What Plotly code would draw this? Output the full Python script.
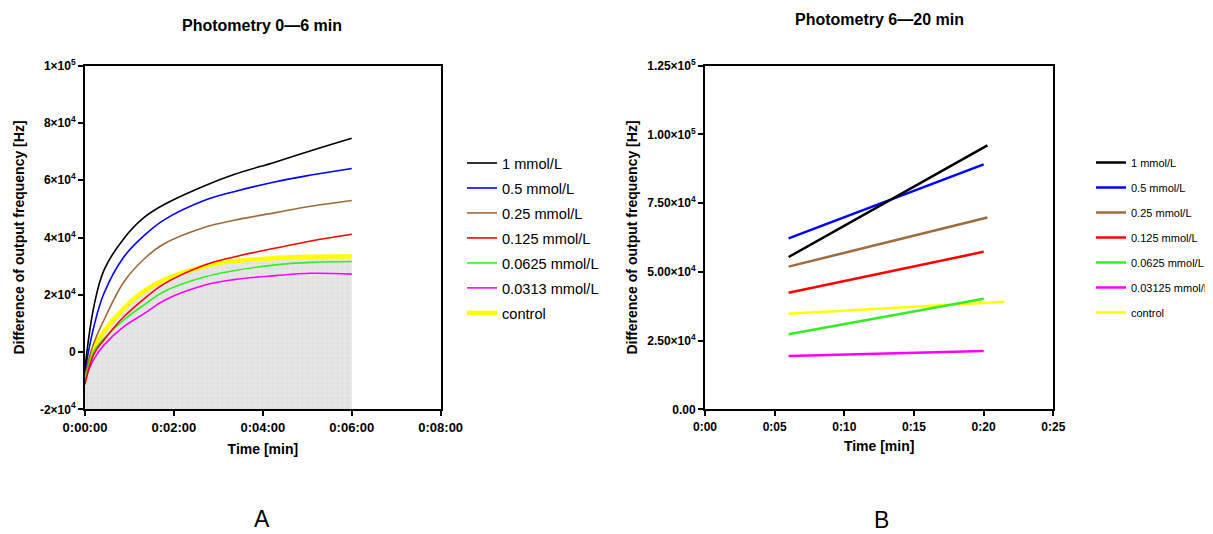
import plotly.graph_objects as go

# ---------------- Data: Photometry 0-6 min (A) ----------------
t_a = [0, 0.2, 0.43, 0.88, 1.33, 1.78, 2.68, 3.35, 4.29, 5.08, 6.0]
a_1 = [-5500, 15900, 28700, 39770, 47000, 51500, 58000, 62000, 66400, 70300, 74650]
a_05 = [-6500, 8930, 20600, 33350, 40700, 46150, 52900, 56000, 59500, 61800, 64100]
a_025 = [-7500, 3140, 11270, 24630, 32500, 37800, 43500, 46000, 48700, 50900, 52900]
a_0125 = [-11300, -700, 4300, 12400, 18600, 23800, 30300, 33200, 36300, 38800, 41150]
a_00625 = [-9000, 300, 4700, 11270, 16500, 21150, 26200, 28400, 30450, 31300, 31600]
a_00313 = [-9500, -2500, 2500, 8930, 13400, 18000, 23300, 25300, 26700, 27500, 27200]
a_ctrl = [-8500, 1500, 7200, 15350, 21300, 25200, 29900, 31700, 32800, 33300, 33350]
a_floor = [-20000] * len(t_a)

# ---------------- Data: Photometry 6-20 min (B) ----------------
b_x = {"1": [6, 20.27], "0.5": [6, 20], "0.25": [6, 20.27], "0.125": [6, 20],
       "0.0625": [6, 20], "0.03125": [6, 20], "control": [6, 21.5]}
b_1 = [55400, 96000]
b_05 = [62200, 89100]
b_025 = [51900, 69800]
b_0125 = [42400, 57300]
b_00625 = [27300, 40250]
b_003125 = [19400, 21200]
b_ctrl = [34800, 39150]

labels_a = ["1 mmol/L", "0.5 mmol/L", "0.25 mmol/L", "0.125 mmol/L",
            "0.0625 mmol/L", "0.0313 mmol/L", "control"]
labels_b = ["1 mmol/L", "0.5 mmol/L", "0.25 mmol/L", "0.125 mmol/L",
            "0.0625 mmol/L", "0.03125 mmol/L", "control"]
colors = ["#000000", "#0000FF", "#9E6B3B", "#FF0000", "#33EE22", "#FF00FF", "#FFFF00"]

xt_a_vals = [0, 2, 4, 6, 8]
xt_a_text = ["0:00:00", "0:02:00", "0:04:00", "0:06:00", "0:08:00"]
yt_a_vals = [-20000, 0, 20000, 40000, 60000, 80000, 100000]
yt_a_text = ["-2×10<sup>4</sup>", "0", "2×10<sup>4</sup>", "4×10<sup>4</sup>",
             "6×10<sup>4</sup>", "8×10<sup>4</sup>", "1×10<sup>5</sup>"]
xt_b_vals = [0, 5, 10, 15, 20, 25]
xt_b_text = ["0:00", "0:05", "0:10", "0:15", "0:20", "0:25"]
yt_b_vals = [0, 25000, 50000, 75000, 100000, 125000]
yt_b_text = ["0.00", "2.50×10<sup>4</sup>", "5.00×10<sup>4</sup>", "7.50×10<sup>4</sup>",
             "1.00×10<sup>5</sup>", "1.25×10<sup>5</sup>"]

FONT = "Liberation Sans, Arial, sans-serif"

# page has an 8px body margin: figure sized to fit the window
W, H, OFF = 1205, 526, 8


def PX(x):
    return (x - OFF) / W


def PY(y):
    return 1 - (y - OFF) / H


fig = go.Figure()

# gray grid-patterned area under control curve
fig.add_trace(go.Scatter(x=t_a, y=a_floor, mode="lines", line=dict(width=0, color="rgba(0,0,0,0)"),
                         showlegend=False, hoverinfo="skip", xaxis="x", yaxis="y"))
fig.add_trace(go.Scatter(x=t_a, y=a_ctrl, mode="lines", fill="tonexty", fillcolor="#e5e5e5",
                         fillpattern=dict(shape="+", size=5, solidity=0.15,
                                          fgcolor="#d6d6d6", bgcolor="#e6e6e6", fillmode="replace"),
                         line=dict(width=0, color="rgba(0,0,0,0)", shape="spline", smoothing=1.0),
                         showlegend=False, hoverinfo="skip", xaxis="x", yaxis="y"))

series_a = [a_1, a_05, a_025, a_0125, a_00625, a_00313, a_ctrl]
draw_order = [6, 5, 4, 3, 2, 1, 0]
for i in draw_order:
    fig.add_trace(go.Scatter(
        x=t_a, y=series_a[i], mode="lines", name=labels_a[i],
        line=dict(color=colors[i], width=4.5 if i == 6 else 1.6, shape="spline", smoothing=1.1),
        legend="legend", legendgroup="a" + str(i), legendrank=i + 1,
        xaxis="x", yaxis="y"))

series_b = [b_1, b_05, b_025, b_0125, b_00625, b_003125, b_ctrl]
keys_b = ["1", "0.5", "0.25", "0.125", "0.0625", "0.03125", "control"]
for i in draw_order:
    fig.add_trace(go.Scatter(
        x=b_x[keys_b[i]], y=series_b[i], mode="lines", name=labels_b[i],
        line=dict(color=colors[i], width=2.5),
        legend="legend2", legendgroup="b" + str(i), legendrank=i + 1,
        xaxis="x2", yaxis="y2"))

axis_common = dict(showline=True, linecolor="black", linewidth=2, mirror=True,
                   ticks="outside", ticklen=5, tickwidth=2, tickcolor="black",
                   showgrid=False, zeroline=False, automargin=False)
ydom = [PY(409.3), PY(65.7)]

fig.update_layout(
    width=W, height=H, margin=dict(l=0, r=0, t=0, b=0, autoexpand=False),
    paper_bgcolor="white", plot_bgcolor="white",
    font=dict(family=FONT, color="black"),
    xaxis=dict(domain=[PX(85), PX(440.7)], range=[0, 8], anchor="y",
               tickvals=xt_a_vals, ticktext=xt_a_text,
               tickfont=dict(size=13, weight="bold"),
               title=dict(text="Time [min]", font=dict(size=14, weight="bold"), standoff=10),
               **axis_common),
    yaxis=dict(domain=ydom, range=[-20000, 100000], anchor="x",
               tickvals=yt_a_vals, ticktext=yt_a_text,
               tickfont=dict(size=12, weight="bold"),
               title=dict(text="Difference of output frequency [Hz]", font=dict(size=14, weight="bold"), standoff=12),
               **axis_common),
    xaxis2=dict(domain=[PX(705), PX(1053.3)], range=[0, 25], anchor="y2",
                tickvals=xt_b_vals, ticktext=xt_b_text,
                tickfont=dict(size=12, weight="bold"),
                title=dict(text="Time [min]", font=dict(size=14, weight="bold"), standoff=8),
                **axis_common),
    yaxis2=dict(domain=ydom, range=[0, 125000], anchor="x2",
                tickvals=yt_b_vals, ticktext=yt_b_text,
                tickfont=dict(size=12, weight="bold"),
                title=dict(text="Difference of output frequency [Hz]", font=dict(size=14, weight="bold"), standoff=6),
                **axis_common),
    legend=dict(x=PX(462), y=PY(147), xanchor="left", yanchor="top",
                font=dict(size=14.6, family=FONT), traceorder="grouped", tracegroupgap=3,
                bgcolor="rgba(0,0,0,0)"),
    legend2=dict(x=PX(1091), y=PY(148), xanchor="left", yanchor="top",
                 font=dict(size=11, family=FONT), traceorder="grouped", tracegroupgap=6,
                 bgcolor="rgba(0,0,0,0)"),
    showlegend=True,
    annotations=[
        dict(text="Photometry 0—6 min", x=PX(262), y=PY(25), xref="paper", yref="paper",
             showarrow=False, font=dict(size=16, weight="bold"), xanchor="center", yanchor="middle"),
        dict(text="Photometry 6—20 min", x=PX(879), y=PY(20), xref="paper", yref="paper",
             showarrow=False, font=dict(size=16, weight="bold"), xanchor="center", yanchor="middle"),
        dict(text="A", x=PX(262), y=PY(519), xref="paper", yref="paper",
             showarrow=False, font=dict(size=23), xanchor="center", yanchor="middle"),
        dict(text="B", x=PX(881), y=PY(520), xref="paper", yref="paper",
             showarrow=False, font=dict(size=23), xanchor="center", yanchor="middle"),
    ],
)

fig.write_html("out.html")
